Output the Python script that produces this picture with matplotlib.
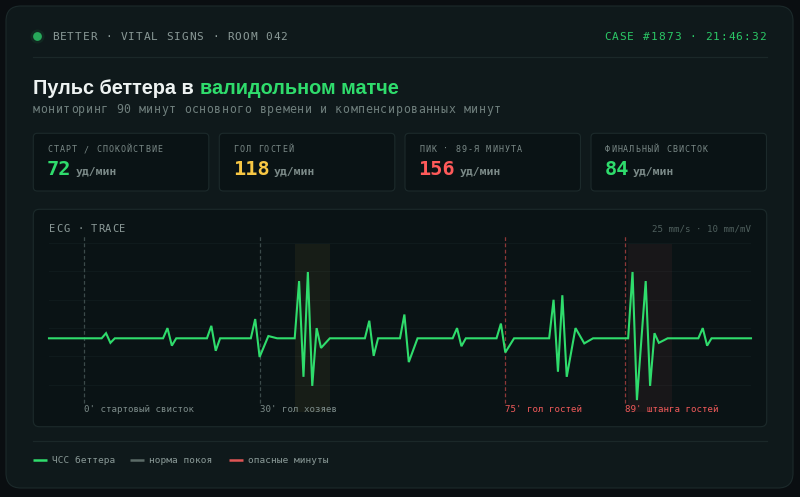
import numpy as np
import matplotlib
matplotlib.use("Agg")
import matplotlib.pyplot as plt
from matplotlib.patches import FancyBboxPatch, Circle

# ECG trace: sample index along the strip and amplitude (mV), vertices only
trace_idx = [0, 12, 13, 14, 15, 26, 27, 28, 29, 36, 37, 38, 39, 46, 47, 48, 50, 52,
             56, 57, 58, 59, 60, 61, 62, 64, 72, 73, 74, 75, 80, 81, 82, 84,
             92, 93, 94, 95, 102, 103, 104, 106, 114, 115, 116, 117, 118, 120, 122, 124,
             132, 133, 134, 136, 137, 138, 139, 141, 148, 149, 150, 151, 160]
trace_mv = [0, 0, 0.09, -0.08, 0, 0, 0.18, -0.13, 0, 0, 0.22, -0.22, 0, 0, 0.34, -0.33, 0.04, 0,
            0, 1.01, -0.68, 1.17, -0.84, 0.18, -0.17, 0, 0, 0.31, -0.31, 0, 0, 0.42, -0.42, 0,
            0, 0.18, -0.14, 0, 0, 0.26, -0.25, 0, 0, 0.68, -0.59, 0.76, -0.68, 0.18, -0.09, 0,
            0, 1.17, -1.09, 1.01, -0.84, 0.09, -0.08, 0, 0, 0.18, -0.13, 0, 0]

event_idx = [8, 48, 104, 131.3]
event_labels = ["0' стартовый свисток", "30' гол хозяев", "75' гол гостей", "89' штанга гостей"]
event_danger = [False, False, True, True]

shade_windows = [(56, 64), (132, 142)]

stat_labels = ["СТАРТ / СПОКОЙСТВИЕ", "ГОЛ ГОСТЕЙ", "ПИК · 89-Я МИНУТА", "ФИНАЛЬНЫЙ СВИСТОК"]
stat_values = [72, 118, 156, 84]

legend_labels = ["ЧСС беттера", "норма покоя", "опасные минуты"]

# colours
OUTER = "#0a0e11"
CARD = "#0f191b"
PANEL = "#0a1315"
BORDER = "#1c2a2b"
GREEN = "#2fdc6c"
YELLOW = "#f8c744"
RED = "#ff5a5a"
GREY = "#8a9997"
DIM = "#4f5f5d"
stat_colors = [GREEN, YELLOW, RED, GREEN]
legend_colors = [GREEN, "#5b6b67", "#e05555"]

MONO = "DejaVu Sans Mono"

fig = plt.figure(figsize=(8, 4.97), dpi=100)
fig.patch.set_facecolor(OUTER)
bg = fig.add_axes([0, 0, 1, 1])
bg.set_xlim(0, 800)
bg.set_ylim(497, 0)
bg.axis("off")


def rbox(x0, y0, x1, y1, r, fc, ec):
    bg.add_patch(FancyBboxPatch((x0, y0), x1 - x0, y1 - y0,
                                boxstyle="round,pad=0,rounding_size=%g" % r,
                                fc=fc, ec=ec, lw=0.8))


def spaced(x, y, s, size, adv, color, weight="normal"):
    cw = 0.602 * size / 0.72
    for i, ch in enumerate(s):
        if ch == " ":
            continue
        bg.text(x + i * adv + cw / 2, y, ch, fontsize=size, color=color,
                family=MONO, weight=weight, ha="center", va="baseline")


rbox(6, 6, 793, 488, 15, CARD, BORDER)

# header
bg.add_patch(Circle((37.5, 36.5), 7, fc=GREEN, alpha=0.08, lw=0))
bg.add_patch(Circle((37.5, 36.5), 4.4, fc="#27a85a", lw=0))
spaced(52, 40, "BETTER · VITAL SIGNS · ROOM 042", 8.0, 7.62, GREY)
spaced(604, 40, "CASE #1873 · 21:46:32", 8.0, 7.75, "#2bc866")
bg.plot([33, 767], [57, 57], color="#1b2829", lw=0.9)

# title
renderer = fig.canvas.get_renderer()
t1 = bg.text(33, 93.5, "Пульс беттера в", fontsize=14.3, color="#eef3f2",
             family="Liberation Sans", weight="bold", ha="left", va="baseline")
bb = t1.get_window_extent(renderer)
x_next = bg.transData.inverted().transform((bb.x1, bb.y0))[0]
bg.text(x_next + 6, 93.5, "валидольном матче", fontsize=14.3, color=GREEN,
        family="Liberation Sans", weight="bold", ha="left", va="baseline")
spaced(33, 113.3, "мониторинг 90 минут основного времени и компенсированных минут",
       8.3, 7.55, "#6f7f7d")

# stat boxes
box_x = [33.3, 219.3, 405, 591]
for bx, lab, val, col in zip(box_x, stat_labels, stat_values, stat_colors):
    rbox(bx, 133.3, bx + 175.5, 191, 4, PANEL, BORDER)
    spaced(bx + 14, 152.3, lab, 6.0, 6.1, "#7a8987")
    tv = bg.text(bx + 13.5, 175, str(val), fontsize=14.6, color=col, family=MONO,
                 weight="bold", ha="left", va="baseline")
    bb = tv.get_window_extent(renderer)
    xe = bg.transData.inverted().transform((bb.x1, bb.y0))[0]
    bg.text(xe + 4, 175, "уд/мин", fontsize=8.2, color="#7a8987", family=MONO,
            weight="bold", ha="left", va="baseline")

# ECG panel
rbox(33.3, 209.3, 766.7, 426.7, 6, PANEL, BORDER)
spaced(49, 232.3, "ECG · TRACE", 7.5, 7.0, GREY)
bg.text(750.7, 231.7, "25 mm/s · 10 mm/mV", fontsize=6.6, color=DIM, family=MONO,
        ha="right", va="baseline")

# legend
bg.plot([33, 767], [441, 441], color="#1b2829", lw=0.9)
lx = [33, 130, 229]
for x0, lab, col in zip(lx, legend_labels, legend_colors):
    bg.plot([x0, x0 + 13.5], [460, 460], color=col, lw=1.8, solid_capstyle="butt")
    bg.text(x0 + 19, 462.7, lab, fontsize=6.8, color=GREY, family=MONO,
            ha="left", va="baseline")

# trace axes: x 49..751 px, y 230..415 px, baseline at 338.3 px, 56.67 px per mV
ax = fig.add_axes([49 / 800, (497 - 415) / 497, 702 / 800, 185 / 497])
ax.set_xlim(0, 160)
ax.set_ylim((338.3 - 415) / 56.67, (338.3 - 230) / 56.67)
ax.patch.set_alpha(0)
ax.axis("off")

for g in np.arange(-0.82, 1.7, 0.5):
    ax.axhline(g, color="#0f1a1c", lw=0.8, zorder=0)

for (s0, s1), col in zip(shade_windows, [YELLOW, RED]):
    ax.fill_between([s0, s1], -1.30, 1.664, color=col, alpha=0.06, lw=0, zorder=1)

for xi, lab, danger in zip(event_idx, event_labels, event_danger):
    lc = "#8e3838" if danger else "#3b4a4a"
    tc = "#f05a5a" if danger else "#7d8c8a"
    ax.vlines(xi, -1.136, 1.81, color=lc, lw=0.9, linestyles=(0, (3, 2)), zorder=2)
    ax.text(xi, -1.306, lab, fontsize=6.6, color=tc, family=MONO,
            ha="left", va="baseline", clip_on=False)

ax.plot(trace_idx, trace_mv, color=GREEN, lw=1.5, solid_joinstyle="miter",
        clip_on=False, zorder=3)

plt.savefig("out.png", dpi=100, facecolor=OUTER)
